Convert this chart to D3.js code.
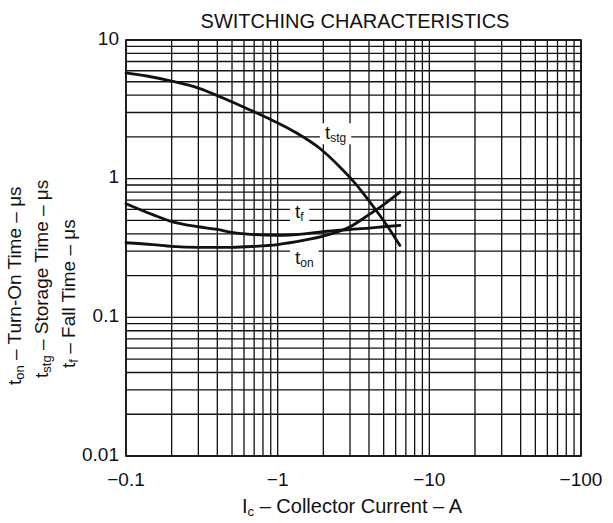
<!DOCTYPE html>
<html>
<head>
<meta charset="utf-8">
<script src="https://cdn.jsdelivr.net/npm/d3@7"></script>
<style>
  html, body { margin: 0; padding: 0; background: #fff; }
  svg text { font-family: "Liberation Sans", Arial, sans-serif; fill: #111; }
</style>
</head>
<body>
<svg id="chart" width="613" height="523"></svg>
<script>
// ---- data (|Ic| in A, times in µs) ----
const tstgCurrent = [0.1, 0.137, 0.2, 0.3, 0.44, 0.62, 0.85, 1.27, 1.9, 2.6, 3.15, 3.7, 4.27, 5.2, 6.4];
const tstgTime    = [5.8, 5.5, 5.05, 4.5, 3.8, 3.22, 2.75, 2.2, 1.65, 1.2, 0.96, 0.775, 0.63, 0.467, 0.33];

const tfCurrent = [0.1, 0.15, 0.2, 0.3, 0.4, 0.5, 0.7, 1.0, 1.5, 2.0, 3.0, 4.0, 5.0, 6.4];
const tfTime    = [0.66, 0.55, 0.49, 0.45, 0.43, 0.41, 0.395, 0.39, 0.40, 0.415, 0.43, 0.44, 0.45, 0.46];

const tonCurrent = [0.1, 0.15, 0.2, 0.3, 0.5, 0.7, 1.0, 1.5, 2.0, 3.0, 4.0, 5.0, 6.4];
const tonTime    = [0.345, 0.335, 0.325, 0.32, 0.32, 0.325, 0.335, 0.36, 0.385, 0.45, 0.55, 0.65, 0.8];

const xTicks = [0.1, 1, 10, 100];
const xTickLabels = ["\u22120.1", "\u22121", "\u221210", "\u2212100"];
const yTicks = [0.01, 0.1, 1, 10];
const yTickLabels = ["0.01", "0.1", "1", "10"];

const curveLabels = [
  { main: "t", sub: "stg", x: 2.05, y: 2.15 },
  { main: "t", sub: "f",   x: 1.3,  y: 0.58 },
  { main: "t", sub: "on",  x: 1.3,  y: 0.27 }
];

// ---- layout ----
const svg = d3.select("#chart");
const L = 126, R = 581, T = 40, B = 456;

const x = d3.scaleLog().domain([0.1, 100]).range([L, R]);
const y = d3.scaleLog().domain([0.01, 10]).range([B, T]);

// grid
const g = svg.append("g");
g.selectAll("line.vx").data(x.ticks()).join("line")
  .attr("x1", d => x(d)).attr("x2", d => x(d))
  .attr("y1", T).attr("y2", B)
  .attr("stroke", "#111").attr("stroke-width", 1.3);
g.selectAll("line.hy").data(y.ticks()).join("line")
  .attr("x1", L).attr("x2", R)
  .attr("y1", d => y(d)).attr("y2", d => y(d))
  .attr("stroke", "#111").attr("stroke-width", 1.3);
svg.append("rect").attr("x", L).attr("y", T).attr("width", R - L).attr("height", B - T)
  .attr("fill", "none").attr("stroke", "#111").attr("stroke-width", 1.6);

// curve labels with white background
const lab = svg.append("g");
curveLabels.forEach(c => {
  const t = lab.append("text")
    .attr("x", x(c.x)).attr("y", y(c.y)).attr("dy", "0.35em")
    .attr("font-size", 19);
  t.append("tspan").text(c.main);
  t.append("tspan").attr("font-size", 12).attr("dy", 3).text(c.sub);
  const bb = t.node().getBBox();
  lab.insert("rect", "text")
    .attr("x", bb.x - 5).attr("y", bb.y + 1)
    .attr("width", bb.width + 10).attr("height", bb.height - 2)
    .attr("fill", "#fff");
});

// curves
const line = d3.line().x(d => x(d[0])).y(d => y(d[1])).curve(d3.curveMonotoneX);
[[tstgCurrent, tstgTime], [tfCurrent, tfTime], [tonCurrent, tonTime]].forEach(([cx, cy]) => {
  svg.append("path")
    .datum(cx.map((v, i) => [v, cy[i]]))
    .attr("d", line)
    .attr("fill", "none").attr("stroke", "#111").attr("stroke-width", 2.8)
    .attr("stroke-linecap", "round");
});

// axes tick labels
svg.append("g").selectAll("text").data(xTicks).join("text")
  .attr("x", d => x(d)).attr("y", B + 30)
  .attr("text-anchor", "middle").attr("font-size", 19)
  .text((d, i) => xTickLabels[i]);
svg.append("g").selectAll("text").data(yTicks).join("text")
  .attr("x", L - 7).attr("y", d => y(d) - 2).attr("dy", "0.35em")
  .attr("text-anchor", "end").attr("font-size", 19)
  .text((d, i) => yTickLabels[i]);

// title
svg.append("text").attr("x", 355).attr("y", 28).attr("text-anchor", "middle")
  .attr("font-size", 20).text("SWITCHING CHARACTERISTICS");

// x title
const xt = svg.append("text").attr("x", 352).attr("y", 513).attr("text-anchor", "middle").attr("font-size", 20);
xt.append("tspan").text("I");
xt.append("tspan").attr("font-size", 13).attr("dy", 3).text("c");
xt.append("tspan").attr("dy", -3).text(" \u2013 Collector Current \u2013 A");

// y titles (rotated)
const yTitles = [
  { sub: "on",  rest: " \u2013 Turn-On Time \u2013 \u03bcs", bx: 21, by: 385 },
  { sub: "stg", rest: " \u2013 Storage Time \u2013 \u03bcs", bx: 48, by: 378 },
  { sub: "f",   rest: " \u2013 Fall Time \u2013 \u03bcs",    bx: 75, by: 368 }
];
yTitles.forEach(d => {
  const t = svg.append("text")
    .attr("transform", `translate(${d.bx},${d.by}) rotate(-90)`)
    .attr("font-size", 19);
  t.append("tspan").text("t");
  t.append("tspan").attr("font-size", 13).attr("dy", 3).text(d.sub);
  t.append("tspan").attr("dy", -3).text(d.rest);
});
</script>
</body>
</html>
